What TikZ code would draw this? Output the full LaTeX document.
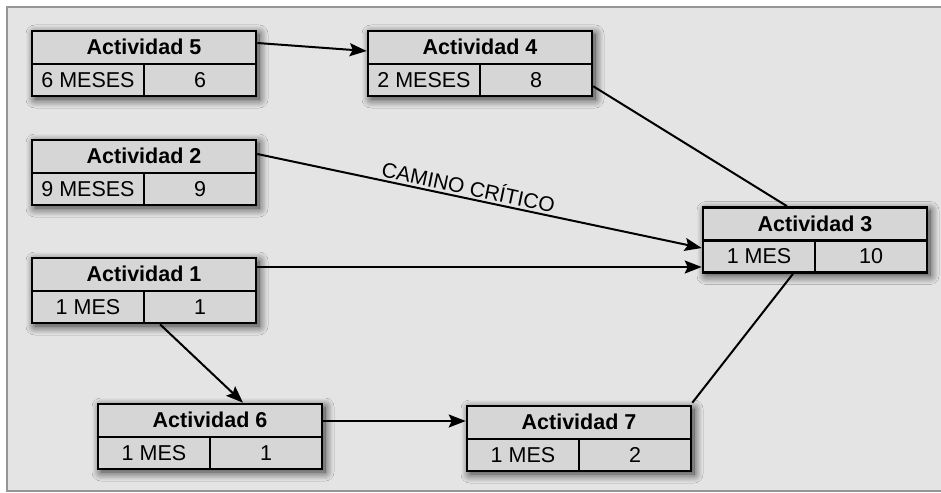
\documentclass[tikz,border=0pt]{standalone}
\usepackage{fontspec}
\setmainfont{Liberation Sans}
\usetikzlibrary{arrows.meta,calc,shadows.blur}
\definecolor{bgc}{RGB}{228,228,228}
\definecolor{boxc}{RGB}{214,214,214}
\definecolor{framec}{RGB}{150,150,150}
\tikzset{
  actbox/.style={draw=black, line width=2.6pt, fill=boxc, rectangle,
    minimum width=224pt, minimum height=65pt, inner sep=0pt,
    blur shadow={shadow blur steps=12, shadow blur radius=9pt, shadow xshift=3pt, shadow yshift=-3pt, shadow opacity=80}},
  divline/.style={draw=black, line width=2.6pt},
  titletext/.style={font=\fontsize{21.5}{25}\selectfont\bfseries, inner sep=0pt},
  celltext/.style={font=\fontsize{21.5}{25}\selectfont, inner sep=0pt},
  conn/.style={draw=black, line width=2pt},
  arr/.style={conn, -{Stealth[length=17pt, width=13pt, inset=3pt]}},
  lbl/.style={font=\fontsize{21}{25}\selectfont, inner sep=2pt}
}
\newcommand\actbox[6]{%
  \node[actbox] (#1) at (#2,#3) {};
  \draw[divline] ([yshift=-0.5pt]#1.west) -- ([yshift=-0.5pt]#1.east);
  \draw[divline] ([yshift=-0.5pt]#1.center) -- (#1.south);
  \node[titletext] (#1t) at ([yshift=16.5pt]#1.center) {#4};
  \node[celltext] (#1d) at ([xshift=-56pt,yshift=-16.5pt]#1.center) {#5};
  \node[celltext] (#1n) at ([xshift=56pt,yshift=-16.5pt]#1.center) {#6};
}
\begin{document}
\begin{tikzpicture}[x=1pt,y=-1pt]
\useasboundingbox (0,0) rectangle (941,492);
\fill[white] (0,0) rectangle (941,492);
\fill[bgc] (7,7) rectangle (941,491);
\draw[framec, line width=2.5pt] (941,7) -- (7,7) -- (7,491) -- (941,491);

\actbox{a5}{144}{63.5}{Actividad 5}{6 MESES}{6}
\actbox{a4}{480}{63.5}{Actividad 4}{2 MESES}{8}
\actbox{a2}{144}{172.5}{Actividad 2}{9 MESES}{9}
\actbox{a1}{144}{290.5}{Actividad 1}{1 MES}{1}
\actbox{a3}{815}{240}{Actividad 3}{1 MES}{10}
\actbox{a6}{210}{436.5}{Actividad 6}{1 MES}{1}
\actbox{a7}{579}{438.5}{Actividad 7}{1 MES}{2}

\coordinate (a1e) at ([yshift=23.5pt]a1.east);
\coordinate (a6e) at ([yshift=15.5pt]a6.east);

\draw[arr] ([yshift=20.5pt]a5.east) -- ([yshift=12.5pt]a4.west);
\draw[arr] ([yshift=18.5pt]a2.east) -- node[lbl, sloped, above, pos=0.47] {CAMINO CRÍTICO} ([yshift=-8pt]a3.west);
\draw[arr] (a1e) -- (a1e -| a3.west);
\draw[conn] ([yshift=11pt]a4.south east) -- ([xshift=-28pt]a3.north);
\draw[arr] ([xshift=16pt]a1.south) -- ([xshift=33pt]a6.north);
\draw[arr] (a6e) -- (a6e -| a7.west);
\draw[conn] ([yshift=2pt]a7.north east) -- ([xshift=-22pt]a3.south);
\end{tikzpicture}
\end{document}
